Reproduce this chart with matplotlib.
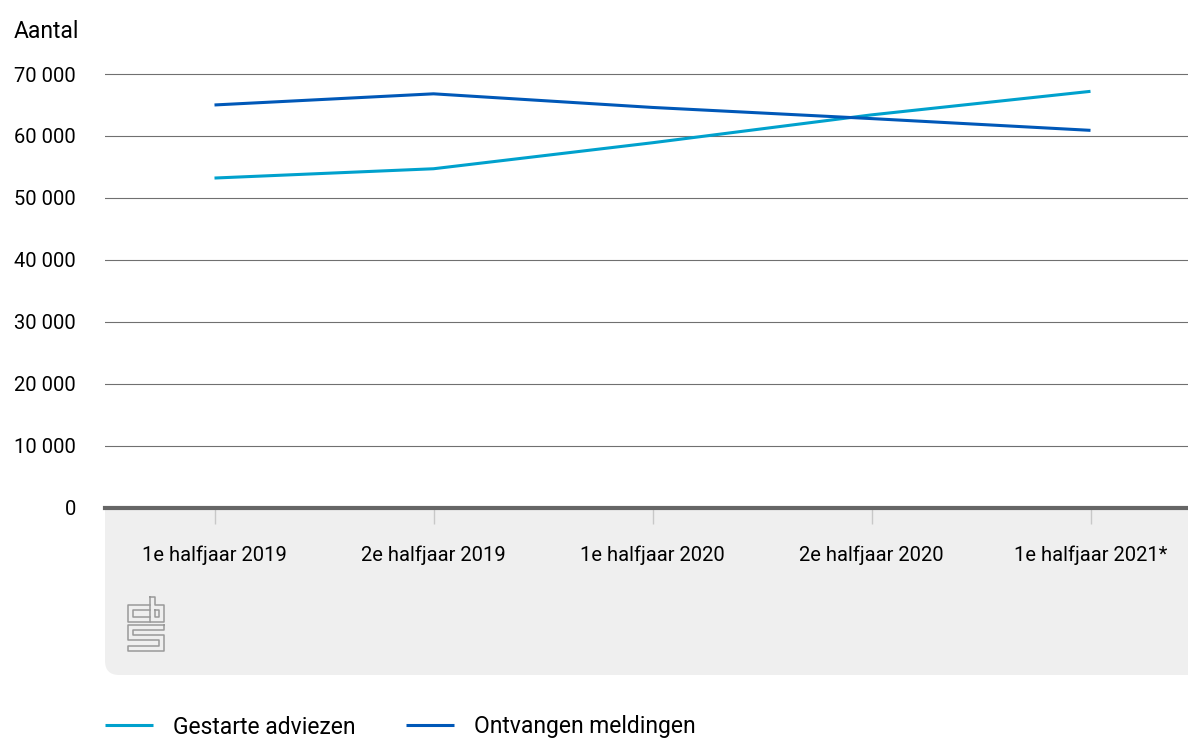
import matplotlib
matplotlib.use("Agg")
import matplotlib.pyplot as plt
from matplotlib.patches import FancyBboxPatch, Rectangle
from matplotlib.ticker import FuncFormatter

categories = ["1e halfjaar 2019", "2e halfjaar 2019", "1e halfjaar 2020",
              "2e halfjaar 2020", "1e halfjaar 2021*"]
gestarte_adviezen = [53200, 54700, 58900, 63400, 67200]
ontvangen_meldingen = [65000, 66800, 64600, 62800, 60900]
y_ticks = [0, 10000, 20000, 30000, 40000, 50000, 60000, 70000]

plt.rcParams['font.family'] = ['Roboto', 'DejaVu Sans']
FS_TICK = 14.5
FS_BIG = 16.5

W, H = 1188, 741
fig = plt.figure(figsize=(W / 100, H / 100), dpi=100)

def fx(px):
    return px / W
def fy(py):
    return 1 - py / H

# grey band below the axis (rounded bottom-left corner only)
band = FancyBboxPatch((fx(105), fy(675)), (1220 - 105) / W, (675 - 508) / H,
                      boxstyle="round,pad=0,rounding_size=0.012",
                      transform=fig.transFigure, facecolor="#efefef",
                      edgecolor="none", zorder=0, mutation_aspect=W / H)
fig.patches.append(band)
fig.patches.append(Rectangle((fx(105), fy(600)), (1220 - 105) / W, (600 - 507) / H,
                             transform=fig.transFigure, facecolor="#efefef",
                             edgecolor="none", zorder=0))

ymax = 71000
px_per = (507.5 - 74) / 70000
top_px = 507.5 - ymax * px_per
ax = fig.add_axes([fx(105), fy(507.5), (1200 - 105) / W, (507.5 - top_px) / H])
ax.set_zorder(2)
ax.set_facecolor("none")
x = list(range(len(categories)))
ax.plot(x, gestarte_adviezen, color="#00a1cd", lw=2.2, label="Gestarte adviezen",
        solid_capstyle="butt", zorder=3)
ax.plot(x, ontvangen_meldingen, color="#0058b8", lw=2.2, label="Ontvangen meldingen",
        solid_capstyle="butt", zorder=3)
ax.set_xlim(-0.5, 4.5)
ax.set_ylim(0, ymax)
ax.set_yticks(y_ticks)
ax.yaxis.set_major_formatter(FuncFormatter(lambda v, p: f"{int(v):,}".replace(",", " ")))
ax.grid(axis="y", color="#707070", lw=0.8)
ax.set_axisbelow(True)
ax.axhline(0, color="#666666", lw=3, zorder=4, clip_on=False)
for s in ax.spines.values():
    s.set_visible(False)
ax.tick_params(axis="y", length=0, pad=21, labelsize=FS_TICK, labelcolor="#000000")
ax.set_xticks(x)
ax.set_xticklabels(categories)
ax.tick_params(axis="x", length=11.5, width=1, color="#c8c8c8", pad=16,
               labelsize=FS_TICK, labelcolor="#000000")

fig.text(fx(14), fy(32), "Aantal", fontsize=FS_BIG, va="center", ha="left")

# CBS logo (simplified outline)
logo_color = "#9a9a9a"
segs = [
    # c
    [(150, 605), (128, 605), (128, 622), (150, 622)],
    [(150, 610), (133, 610), (133, 617), (150, 617)],
    # b
    [(150, 597), (150, 622), (164, 622), (164, 605), (155, 605), (155, 597), (150, 597)],
    [(155, 610), (159, 610), (159, 617), (155, 617), (155, 610)],
    # S
    [(164, 625), (128, 625), (128, 640), (159, 640), (159, 646), (128, 646),
     (128, 651), (164, 651), (164, 635), (133, 635), (133, 630), (164, 630), (164, 625)],
]
for seg in segs:
    fig.add_artist(plt.Line2D([fx(p[0]) for p in seg], [fy(p[1]) for p in seg],
                              color=logo_color, lw=1.1, transform=fig.transFigure))

fig.legend(loc="center left", bbox_to_anchor=(fx(105), fy(727)), ncol=2,
           frameon=False, fontsize=FS_BIG, handlelength=2.1, handletextpad=0.87,
           columnspacing=2.2, borderaxespad=0, borderpad=0)

fig.savefig("out.png", dpi=100)
